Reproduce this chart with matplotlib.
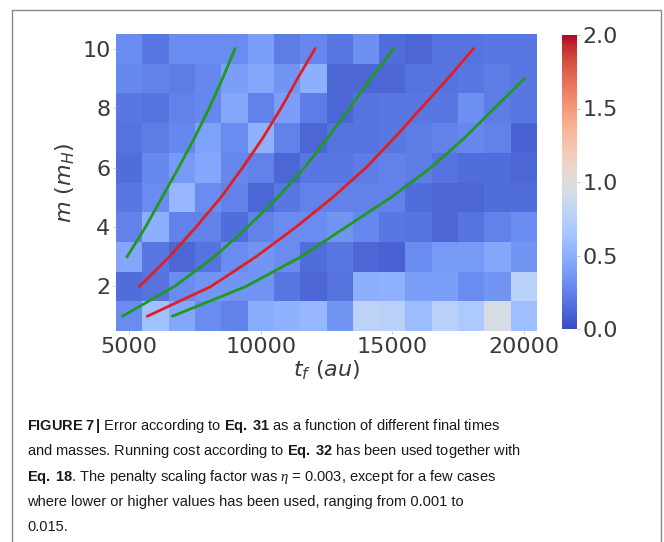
import matplotlib
matplotlib.use('Agg')
import matplotlib.pyplot as plt
import numpy as np
from matplotlib.patches import Rectangle

# final times (au) and masses (m_H)
t_values = [5000, 6000, 7000, 8000, 9000, 10000, 11000, 12000,
            13000, 14000, 15000, 16000, 17000, 18000, 19000, 20000]
m_values = [1, 2, 3, 4, 5, 6, 7, 8, 9, 10]

# error, one row per mass (m = 1 first)
err_m1 = [0.30, 0.62, 0.45, 0.30, 0.25, 0.48, 0.52, 0.55, 0.35, 0.78, 0.75, 0.58, 0.75, 0.68, 0.95, 0.60]
err_m2 = [0.15, 0.18, 0.30, 0.35, 0.35, 0.35, 0.20, 0.12, 0.18, 0.50, 0.52, 0.40, 0.40, 0.30, 0.35, 0.75]
err_m3 = [0.45, 0.20, 0.12, 0.18, 0.30, 0.35, 0.30, 0.15, 0.20, 0.12, 0.10, 0.30, 0.38, 0.38, 0.45, 0.35]
err_m4 = [0.25, 0.50, 0.25, 0.25, 0.15, 0.25, 0.30, 0.30, 0.35, 0.28, 0.20, 0.18, 0.12, 0.18, 0.25, 0.30]
err_m5 = [0.20, 0.30, 0.55, 0.30, 0.25, 0.12, 0.20, 0.25, 0.25, 0.25, 0.25, 0.15, 0.12, 0.12, 0.15, 0.15]
err_m6 = [0.15, 0.28, 0.38, 0.45, 0.28, 0.25, 0.12, 0.20, 0.20, 0.22, 0.25, 0.22, 0.18, 0.15, 0.15, 0.12]
err_m7 = [0.18, 0.22, 0.28, 0.42, 0.30, 0.52, 0.25, 0.12, 0.18, 0.18, 0.20, 0.22, 0.25, 0.28, 0.25, 0.10]
err_m8 = [0.20, 0.18, 0.25, 0.28, 0.45, 0.25, 0.40, 0.22, 0.12, 0.18, 0.20, 0.20, 0.20, 0.32, 0.22, 0.20]
err_m9 = [0.28, 0.25, 0.22, 0.28, 0.40, 0.45, 0.35, 0.50, 0.12, 0.12, 0.12, 0.18, 0.18, 0.20, 0.22, 0.20]
err_m10 = [0.30, 0.20, 0.30, 0.30, 0.30, 0.40, 0.22, 0.28, 0.20, 0.32, 0.15, 0.12, 0.18, 0.18, 0.20, 0.20]

# curves drawn over the map (t_f, m)
green1_t = [4920, 5620, 6250, 6880, 7480, 8040, 8550, 9020]
green1_m = [3, 4, 5, 6, 7, 8, 9, 10]
red1_t = [5390, 6530, 7540, 8490, 9310, 10080, 10770, 11400, 12060]
red1_m = [2, 3, 4, 5, 6, 7, 8, 9, 10]
green2_t = [4750, 6720, 8240, 9500, 10650, 11660, 12550, 13370, 14190, 15050]
green2_m = [1, 2, 3, 4, 5, 6, 7, 8, 9, 10]
red2_t = [5700, 8110, 9820, 11340, 12740, 14000, 15080, 16090, 17110, 18080]
red2_m = [1, 2, 3, 4, 5, 6, 7, 8, 9, 10]
green3_t = [6650, 9440, 11530, 13240, 14950, 16470, 17740, 18880, 20020]
green3_m = [1, 2, 3, 4, 5, 6, 7, 8, 9]

caption_lines = [
    r"$\mathbf{FIGURE\ 7\,|}$ Error according to $\mathbf{Eq.\ 31}$ as a function of different final times",
    r"and masses. Running cost according to $\mathbf{Eq.\ 32}$ has been used together with",
    r"$\mathbf{Eq.\ 18}$. The penalty scaling factor was $\eta$ = 0.003, except for a few cases",
    r"where lower or higher values has been used, ranging from 0.001 to",
    r"0.015.",
]

plt.rcParams['mathtext.fontset'] = 'custom'
plt.rcParams['mathtext.rm'] = 'Liberation Sans'
plt.rcParams['mathtext.bf'] = 'Liberation Sans:bold'
plt.rcParams['mathtext.it'] = 'Liberation Serif:italic'

W, H = 664, 542
fig = plt.figure(figsize=(W / 100, H / 100), dpi=100)

err = np.array([err_m1, err_m2, err_m3, err_m4, err_m5,
                err_m6, err_m7, err_m8, err_m9, err_m10])
t = np.array(t_values, dtype=float)
m = np.array(m_values, dtype=float)
t_edges = np.concatenate([[t[0] - 500], (t[:-1] + t[1:]) / 2, [t[-1] + 500]])
m_edges = np.concatenate([[m[0] - 0.5], (m[:-1] + m[1:]) / 2, [m[-1] + 0.5]])

ax = fig.add_axes([116 / W, 1 - 331 / H, 421 / W, 297 / H])
mesh = ax.pcolormesh(t_edges, m_edges, err, cmap='coolwarm', vmin=0, vmax=2)

lw = 2.0
green = '#1f9a1f'
red = '#e02020'
ax.plot(green1_t, green1_m, color=green, lw=lw)
ax.plot(red1_t, red1_m, color=red, lw=lw)
ax.plot(green2_t, green2_m, color=green, lw=lw)
ax.plot(red2_t, red2_m, color=red, lw=lw)
ax.plot(green3_t, green3_m, color=green, lw=lw)

ax.set_xlim(t_edges[0], t_edges[-1])
ax.set_ylim(m_edges[0], m_edges[-1])
ax.set_xticks([5000, 10000, 15000, 20000])
ax.set_yticks([2, 4, 6, 8, 10])
for s in ax.spines.values():
    s.set_visible(False)
tick_col = '#3a3a3a'
ax.tick_params(labelsize=16, labelcolor=tick_col, length=2, width=0.6,
               color='#bbbbbb', pad=2)
ax.set_xlabel(r'$t_f\ (au)$', fontsize=16, color=tick_col,
              math_fontfamily='dejavusans', labelpad=1)
ax.set_ylabel(r'$m\ (m_H)$', fontsize=16, color=tick_col,
              math_fontfamily='dejavusans', labelpad=4)

cax = fig.add_axes([562 / W, 1 - 329 / H, 15 / W, 294 / H])
cb = fig.colorbar(mesh, cax=cax, ticks=[0, 0.5, 1.0, 1.5, 2.0])
cb.outline.set_visible(False)
cb.ax.tick_params(labelsize=16, labelcolor=tick_col, length=2, width=0.6,
                  color='#bbbbbb', pad=2)
cb.ax.set_yticklabels(['0.0', '0.5', '1.0', '1.5', '2.0'])

# panel border
fig.patches.append(Rectangle((12 / W, -0.05), 649 / W, 1.05 - 10 / H,
                             transform=fig.transFigure, fill=False,
                             edgecolor='#888888', lw=1.0))

for i, line in enumerate(caption_lines):
    y = 1 - (426 + i * 25.3) / H
    fig.text(27 / W, y, line, fontsize=10.5, va='center', ha='left',
             color='#1a1a1a', family='Liberation Sans')

fig.savefig('out.png', dpi=100)
